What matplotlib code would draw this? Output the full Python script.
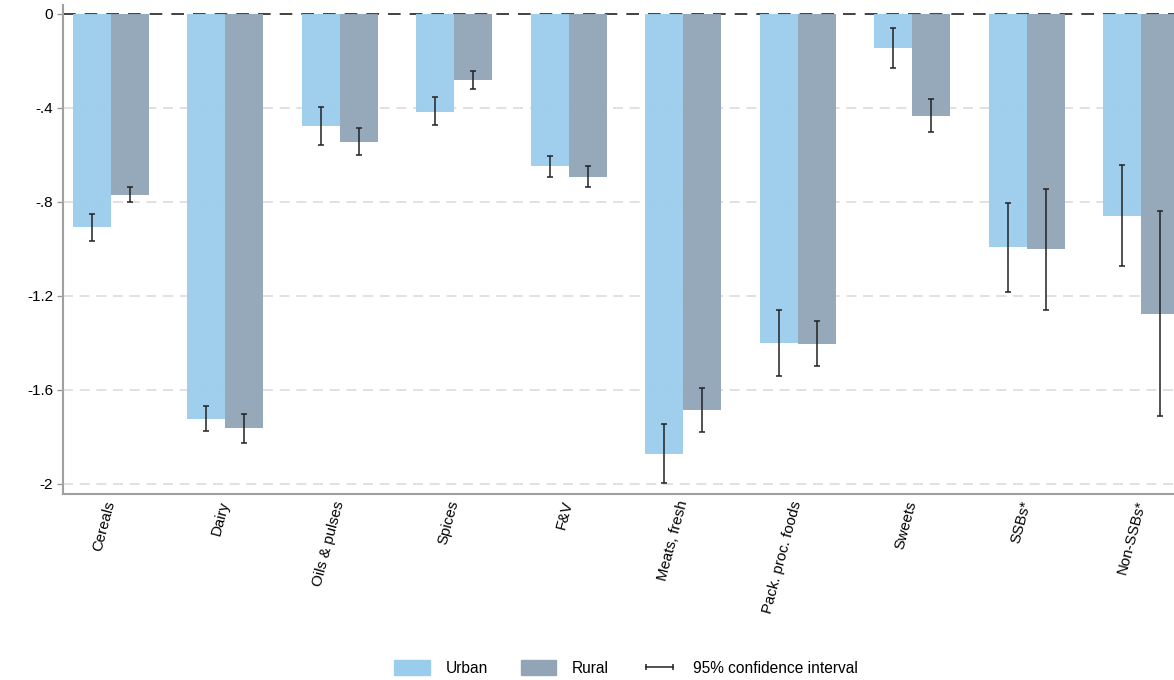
import numpy as np
import matplotlib
matplotlib.use('Agg')
import matplotlib.pyplot as plt
from matplotlib.patches import Patch
from matplotlib.lines import Line2D

plt.rcParams['font.family'] = ['Liberation Sans', 'DejaVu Sans']

categories = ['Cereals', 'Dairy', 'Oils & pulses', 'Spices', 'F&V', 'Meats, fresh',
              'Pack. proc. foods', 'Sweets', 'SSBs*', 'Non-SSBs*']

urban = [-0.906, -1.723, -0.477, -0.417, -0.647, -1.872, -1.400, -0.146, -0.993, -0.860]
urban_lo = [-0.965, -1.776, -0.557, -0.472, -0.694, -1.996, -1.540, -0.231, -1.182, -1.071]
urban_hi = [-0.851, -1.668, -0.396, -0.353, -0.604, -1.745, -1.260, -0.060, -0.803, -0.644]

rural = [-0.770, -1.763, -0.545, -0.281, -0.694, -1.685, -1.404, -0.434, -1.001, -1.275]
rural_lo = [-0.801, -1.826, -0.600, -0.319, -0.736, -1.779, -1.498, -0.503, -1.258, -1.709]
rural_hi = [-0.738, -1.702, -0.485, -0.243, -0.647, -1.591, -1.306, -0.363, -0.745, -0.838]

yticks = [0, -0.4, -0.8, -1.2, -1.6, -2]
ytick_labels = ['0', '-.4', '-.8', '-1.2', '-1.6', '-2']

c_urban = '#9acdeb'
c_rural = '#91a5b7'

fig = plt.figure(figsize=(11.74, 6.8), dpi=100)
# axes runs slightly past the right edge, like the cropped original
ax = fig.add_axes([63 / 1174, 186 / 680, 1126 / 1174, 489 / 680])

x = np.arange(len(categories))
w = 0.332

for y in yticks[1:]:
    ax.axhline(y, color='#dcdcdc', lw=1.2, ls=(0, (6, 4)), zorder=0)
ax.axhline(0, color='#333333', lw=1.3, ls=(0, (7, 5)), zorder=0.5)

ax.bar(x - w / 2, urban, w, color=c_urban, alpha=0.95, zorder=1)
ax.bar(x + w / 2, rural, w, color=c_rural, alpha=0.95, zorder=1)

u = np.array(urban)
r = np.array(rural)
ax.errorbar(x - w / 2, u, yerr=[u - np.array(urban_lo), np.array(urban_hi) - u],
            fmt='none', ecolor='#222222', elinewidth=1.1, capsize=2.5, capthick=1.1, zorder=3)
ax.errorbar(x + w / 2, r, yerr=[r - np.array(rural_lo), np.array(rural_hi) - r],
            fmt='none', ecolor='#222222', elinewidth=1.1, capsize=2.5, capthick=1.1, zorder=3)

ax.set_xlim(-0.419, len(categories) - 1 + 0.419)
ax.set_ylim(-2.043, 0.038)
ax.set_yticks(yticks)
ax.set_yticklabels(ytick_labels, fontsize=11)
ax.set_xticks(x)
ax.set_xticklabels(categories, fontsize=10.8, rotation=75, ha='right', va='center',
                   rotation_mode='anchor')
ax.tick_params(axis='x', length=0, pad=5)
ax.tick_params(axis='y', length=4, width=1, color='#999999', pad=3)

for s in ['top', 'right']:
    ax.spines[s].set_visible(False)
for s in ['left', 'bottom']:
    ax.spines[s].set_color('#a0a0a0')
    ax.spines[s].set_linewidth(1.5)

handles = [Patch(color=c_urban), Patch(color=c_rural),
           Line2D([0], [0], color='#222222', lw=1.1, marker='|', markersize=5, markeredgewidth=1.1)]
fig.legend(handles, ['Urban', 'Rural', '95% confidence interval'], loc='center',
           bbox_to_anchor=(626 / 1174, 1 - 668 / 680), ncol=3, frameon=False, fontsize=11.2,
           numpoints=2, handlelength=2.3, handleheight=1.15, columnspacing=2.1, handletextpad=1.0)

fig.savefig('out.png', dpi=100)
